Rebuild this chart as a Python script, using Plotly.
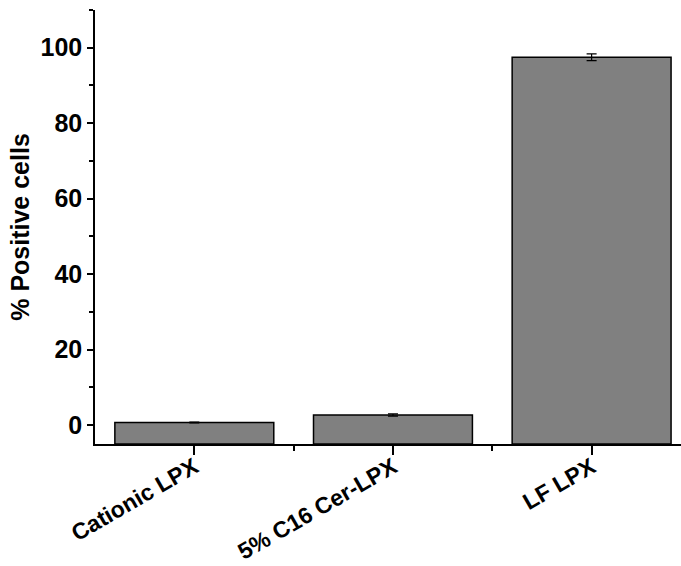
import plotly.graph_objects as go

categories = ["Cationic LPX", "5% C16 Cer-LPX", "LF LPX"]
values = [0.7, 2.7, 97.5]
errors = [0.1, 0.3, 0.9]
y_ticks = [0, 20, 40, 60, 80, 100]

base = -5
x_pos = list(range(len(categories)))

fig = go.Figure()
fig.add_trace(go.Bar(
    x=x_pos,
    y=[v - base for v in values],
    base=base,
    width=0.8,
    marker=dict(color="#808080", line=dict(color="black", width=1.5)),
    error_y=dict(type="data", array=errors, color="black", thickness=1.2, width=5),
))

font = dict(family="Liberation Sans, Arial, sans-serif", size=25, color="black", weight="bold")
xfont = dict(family="Liberation Sans, Arial, sans-serif", size=23, color="black", weight="bold")

fig.update_layout(
    width=681, height=566,
    margin=dict(l=95, r=0, t=10, b=122),
    plot_bgcolor="white", paper_bgcolor="white",
    showlegend=False,
    xaxis=dict(
        range=[-0.5, 2.45],
        tickmode="array", tickvals=x_pos, ticktext=categories,
        tickangle=-30, automargin=False, ticklabelstandoff=-10,
        ticks="outside", ticklen=9, tickwidth=1.5, tickcolor="black",
        minor=dict(tickmode="array", tickvals=[0.5, 1.5], ticks="outside", ticklen=5, tickwidth=1.5, tickcolor="black"),
        showline=True, linecolor="black", linewidth=1.5,
        showgrid=False, zeroline=False,
        tickfont=xfont,
    ),
    yaxis=dict(
        range=[-5, 110], automargin=False,
        tickmode="array", tickvals=y_ticks,
        ticks="outside", ticklen=6, tickwidth=1.5, tickcolor="black",
        minor=dict(tickmode="linear", tick0=10, dtick=20, ticks="outside", ticklen=4, tickwidth=1.5, tickcolor="black"),
        showline=True, linecolor="black", linewidth=1.5,
        showgrid=False, zeroline=False,
        tickfont=font,
        title=dict(text="% Positive cells", font=font, standoff=4),
    ),
)

fig.write_html("out.html", config={"displayModeBar": False},
               post_script="document.body.style.margin='0';")
